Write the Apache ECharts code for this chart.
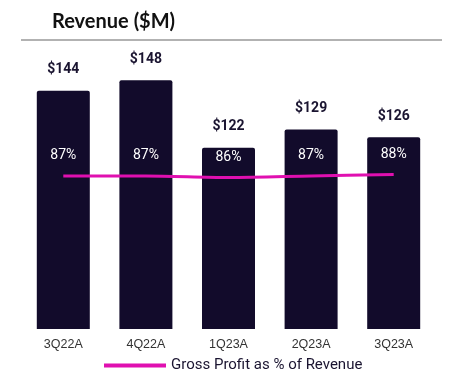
<!DOCTYPE html>
<html><head><meta charset="utf-8">
<script src="https://cdn.jsdelivr.net/npm/echarts@6/dist/echarts.min.js"></script>
<style>html,body{margin:0;padding:0;background:#fff;}#c{width:464px;height:384px;}</style>
</head><body><div id="c"></div>
<script>
const categories = ['3Q22A','4Q22A','1Q23A','2Q23A','3Q23A'];
const revenue = [144,148,122,129,126];
const grossProfitPct = [87,87,86,87,88];

const chart = echarts.init(document.getElementById('c'));
chart.setOption({
  animation:false,
  title:{text:'Revenue ($M)',left:47,top:7,textStyle:{fontFamily:'Lato',fontWeight:'bold',fontSize:20,color:'#111'}},
  graphic:[{type:'line',shape:{x1:21,y1:40,x2:442,y2:40},style:{stroke:'#666',lineWidth:1.2}}],
  legend:{left:99,top:353,itemWidth:62,itemHeight:4,icon:'rect',itemGap:10,
    textStyle:{fontFamily:'Roboto',fontSize:15,color:'#1a1430'},
    data:['Gross Profit as % of Revenue']},
  grid:{left:22,right:29,top:44,bottom:55},
  xAxis:{type:'category',data:categories,axisLine:{show:false},axisTick:{show:false},
    axisLabel:{margin:9,fontFamily:'Liberation Sans',fontSize:12.5,color:'#333'}},
  yAxis:[{type:'value',min:52,max:162,show:false,splitLine:{show:false}},
         {type:'value',min:-15,max:175,show:false,splitLine:{show:false}}],
  series:[
    {type:'bar',name:'Revenue',data:revenue,barWidth:53,
     itemStyle:{color:'#120b2b',borderRadius:[2,2,0,0]},
     label:{show:true,position:'top',distance:14,formatter:p=>'$'+p.value,
       fontFamily:'Roboto',fontWeight:'bold',fontSize:14,color:'#1a1430'}},
    {type:'line',name:'Gross Profit as % of Revenue',yAxisIndex:1,data:grossProfitPct,z:5,
     smooth:0.3,symbol:'circle',symbolSize:0.01,showSymbol:true,lineStyle:{color:'#e010b0',width:3},itemStyle:{color:'#e010b0'},
     label:{show:true,position:'top',distance:13,formatter:p=>p.value+'%',
       fontFamily:'Roboto',fontSize:14,color:'#fff'}}
  ]
});
</script></body></html>
